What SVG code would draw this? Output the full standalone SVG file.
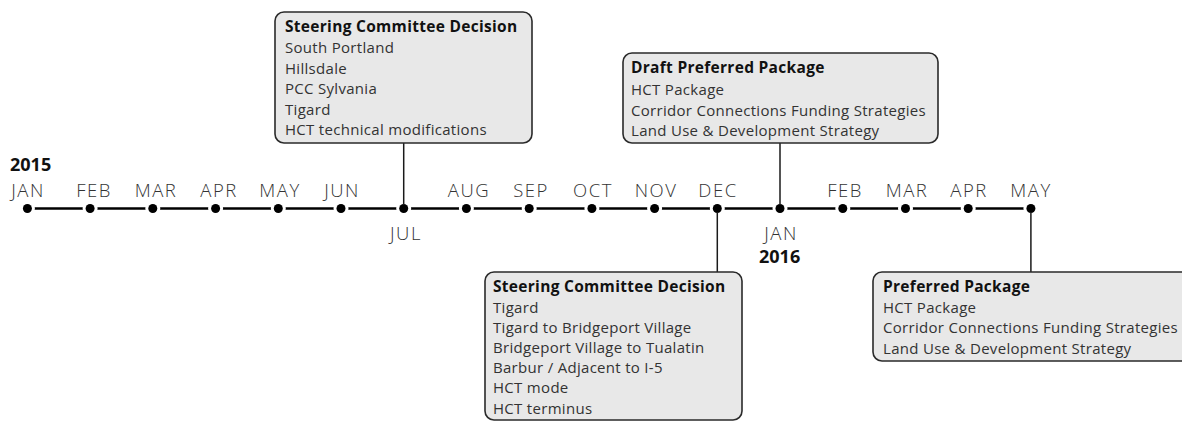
<svg xmlns="http://www.w3.org/2000/svg" width="1182" height="421" viewBox="0 0 1182 421">
<style>
.mo{font-family:"Open Sans","Noto Sans",sans-serif;font-weight:300;font-size:18.5px;letter-spacing:1.5px;fill:#333;text-anchor:middle}
.yr{font-family:"Open Sans","Noto Sans",sans-serif;font-weight:700;font-size:18px;fill:#111}
.box{fill:#e8e8e8;stroke:#2a2a2a;stroke-width:1.6}
.tt{font-family:"Open Sans","Noto Sans",sans-serif;font-weight:700;font-size:15.5px;letter-spacing:0.3px;fill:#111}
.bt{font-family:"Open Sans","Noto Sans",sans-serif;font-size:15px;letter-spacing:0.3px;fill:#333}
.con{stroke:#1a1a1a;stroke-width:1.5;fill:none}
.dot{fill:#000;stroke:#fff;stroke-width:6;paint-order:stroke}
</style>
<rect width="1182" height="421" fill="#fff"/>
<g id="timeline">
<line x1="27.4" y1="208.5" x2="1030.9" y2="208.5" stroke="#000" stroke-width="2.7"/>
<g>
<circle class="dot" cx="27.4" cy="208.5" r="4.5"/>
<circle class="dot" cx="90.1" cy="208.5" r="4.5"/>
<circle class="dot" cx="152.8" cy="208.5" r="4.5"/>
<circle class="dot" cx="215.6" cy="208.5" r="4.5"/>
<circle class="dot" cx="278.3" cy="208.5" r="4.5"/>
<circle class="dot" cx="341.0" cy="208.5" r="4.5"/>
<circle class="dot" cx="403.7" cy="208.5" r="4.5"/>
<circle class="dot" cx="466.4" cy="208.5" r="4.5"/>
<circle class="dot" cx="529.2" cy="208.5" r="4.5"/>
<circle class="dot" cx="591.9" cy="208.5" r="4.5"/>
<circle class="dot" cx="654.6" cy="208.5" r="4.5"/>
<circle class="dot" cx="717.3" cy="208.5" r="4.5"/>
<circle class="dot" cx="780.0" cy="208.5" r="4.5"/>
<circle class="dot" cx="842.8" cy="208.5" r="4.5"/>
<circle class="dot" cx="905.5" cy="208.5" r="4.5"/>
<circle class="dot" cx="968.2" cy="208.5" r="4.5"/>
<circle class="dot" cx="1030.9" cy="208.5" r="4.5"/>
</g>
<text class="yr" x="10" y="171">2015</text>
<text class="yr" x="759" y="262.5">2016</text>
<text class="mo" x="28" y="196.5">JAN</text>
<text class="mo" x="94" y="196.5">FEB</text>
<text class="mo" x="156" y="196.5">MAR</text>
<text class="mo" x="219" y="196.5">APR</text>
<text class="mo" x="280" y="196.5">MAY</text>
<text class="mo" x="342" y="196.5">JUN</text>
<text class="mo" x="406" y="239.5">JUL</text>
<text class="mo" x="469" y="196.5">AUG</text>
<text class="mo" x="531" y="196.5">SEP</text>
<text class="mo" x="593" y="196.5">OCT</text>
<text class="mo" x="656" y="196.5">NOV</text>
<text class="mo" x="718" y="196.5">DEC</text>
<text class="mo" x="781" y="239.5">JAN</text>
<text class="mo" x="845" y="196.5">FEB</text>
<text class="mo" x="907" y="196.5">MAR</text>
<text class="mo" x="969" y="196.5">APR</text>
<text class="mo" x="1031" y="196.5">MAY</text>
</g>
<g id="connectors">
<line class="con" x1="403.7" y1="143" x2="403.7" y2="205"/>
<line class="con" x1="780.0" y1="143" x2="780.0" y2="205"/>
<line class="con" x1="717.3" y1="212" x2="717.3" y2="272"/>
<line class="con" x1="1030.9" y1="212" x2="1030.9" y2="272"/>
</g>
<g id="node-jul">
<rect class="box" x="275" y="12" width="257" height="131" rx="9"/>
<text class="tt" x="285" y="32">Steering Committee Decision</text>
<text class="bt" x="285" y="53">South Portland</text>
<text class="bt" x="285" y="73.5">Hillsdale</text>
<text class="bt" x="285" y="94">PCC Sylvania</text>
<text class="bt" x="285" y="114.5">Tigard</text>
<text class="bt" x="285" y="135">HCT technical modifications</text>
</g>
<g id="node-jan">
<rect class="box" x="623" y="53" width="315" height="90" rx="9"/>
<text class="tt" x="631" y="73">Draft Preferred Package</text>
<text class="bt" x="631" y="94.5">HCT Package</text>
<text class="bt" x="631" y="115.5">Corridor Connections Funding Strategies</text>
<text class="bt" x="631" y="136">Land Use &amp; Development Strategy</text>
</g>
<g id="node-dec">
<rect class="box" x="485" y="272" width="257" height="148" rx="9"/>
<text class="tt" x="493" y="292">Steering Committee Decision</text>
<text class="bt" x="493" y="312.5">Tigard</text>
<text class="bt" x="493" y="332.5">Tigard to Bridgeport Village</text>
<text class="bt" x="493" y="352.5">Bridgeport Village to Tualatin</text>
<text class="bt" x="493" y="373">Barbur / Adjacent to I-5</text>
<text class="bt" x="493" y="393">HCT mode</text>
<text class="bt" x="493" y="413.5">HCT terminus</text>
</g>
<g id="node-may">
<rect class="box" x="873" y="272" width="340" height="89" rx="9"/>
<text class="tt" x="883" y="292">Preferred Package</text>
<text class="bt" x="883" y="312.5">HCT Package</text>
<text class="bt" x="883" y="333">Corridor Connections Funding Strategies</text>
<text class="bt" x="883" y="353.5">Land Use &amp; Development Strategy</text>
</g>
</svg>
